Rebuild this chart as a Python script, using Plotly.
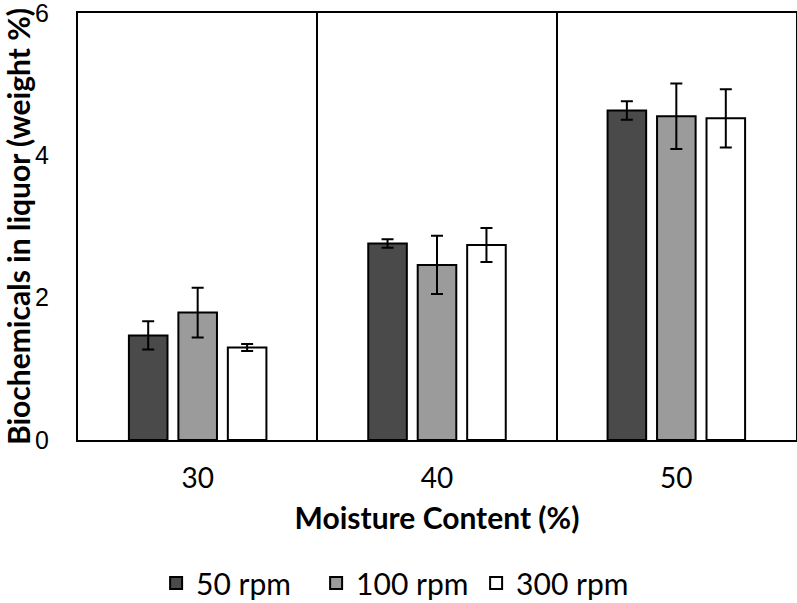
import plotly.graph_objects as go

categories = ["30", "40", "50"]
series_names = ["50 rpm", "100 rpm", "300 rpm"]
values_50 = [1.47, 2.76, 4.63]
values_100 = [1.79, 2.46, 4.55]
values_300 = [1.30, 2.74, 4.52]
err_50 = [0.20, 0.06, 0.13]
err_100 = [0.35, 0.41, 0.46]
err_300 = [0.05, 0.24, 0.41]
colors = ["#4a4a4a", "#9b9b9b", "#ffffff"]
y_ticks = [0, 2, 4, 6]

FONT = "Lato, Carlito, Calibri, sans-serif"

fig = go.Figure()
for name, vals, errs, col in zip(series_names, [values_50, values_100, values_300],
                                 [err_50, err_100, err_300], colors):
    fig.add_trace(go.Bar(
        x=categories, y=vals, name=name,
        marker=dict(color=col, line=dict(color="black", width=2)),
        error_y=dict(type="data", array=errs, visible=True, color="black",
                     thickness=2, width=6),
    ))

fig.update_layout(
    width=797, height=603,
    margin=dict(l=78, r=1, t=13, b=163, autoexpand=False),
    paper_bgcolor="white", plot_bgcolor="white",
    barmode="group", bargap=0.38, bargroupgap=0.22,
    font=dict(family=FONT, color="black", size=28),
    showlegend=True,
    legend=dict(orientation="h", xref="container", x=0.497, xanchor="center",
                yref="container", y=0.033, yanchor="middle",
                font=dict(size=30, family=FONT), itemwidth=30, traceorder="normal",
                entrywidth=115),
    xaxis=dict(
        type="category", tickson="boundaries", showgrid=True, gridcolor="black",
        gridwidth=2, ticks="", showline=True, linecolor="black", linewidth=2,
        mirror=True, tickfont=dict(size=28), ticklabelstandoff=12, automargin=False,
        title=dict(text="<b>Moisture Content (%)</b>", font=dict(size=30), standoff=15),
    ),
    yaxis=dict(
        range=[0, 6], tickvals=y_ticks, showgrid=False, zeroline=False, ticks="",
        showline=True, linecolor="black", linewidth=2, mirror=True, automargin=False,
        tickfont=dict(size=25, family="Liberation Sans, Arial, sans-serif"),
        ticklabelstandoff=22, ticklabeloverflow="allow",
        title=dict(text="<b>Biochemicals in liquor (weight %)</b>", font=dict(size=30), standoff=4),
    ),
)

fig.write_html("out.html")
